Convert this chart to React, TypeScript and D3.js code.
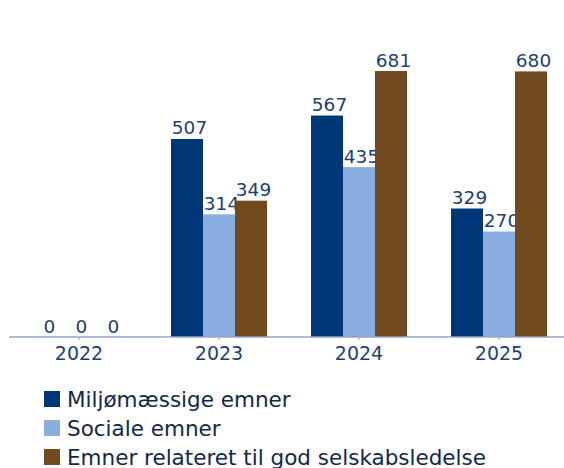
import React from "react";
import * as d3 from "d3";

const years = ["2022", "2023", "2024", "2025"];
const seriesNames = ["Miljømæssige emner", "Sociale emner", "Emner relateret til god selskabsledelse"];
const miljo = [0, 507, 567, 329];
const sociale = [0, 314, 435, 270];
const ledelse = [0, 349, 681, 680];
const colors = ["#003778", "#8aaddf", "#714a20"];

const W = 564;
const H = 468;

export default function App() {
  const series = [miljo, sociale, ledelse];
  const x = d3.scaleBand<string>().domain(years).range([9, 569]).paddingInner(44 / 140).paddingOuter(22 / 140);
  const xs = d3.scaleBand<number>().domain([0, 1, 2]).range([0, x.bandwidth()]);
  const y = d3.scaleLinear().domain([0, 700]).range([337, 63.6]);
  const font = "'DejaVu Sans', sans-serif";
  return (
    <svg width={W} height={H} style={{ position: "absolute", left: 0, top: 0 }}>
      <rect width={W} height={H} fill="#fff" />
      {years.map((yr, i) => (
        <g key={yr}>
          {series.map((s, j) => {
            const bx = (x(yr) as number) + (xs(j) as number);
            const v = s[i];
            return (
              <g key={j}>
                {v > 0 && (
                  <rect x={bx} y={y(v)} width={xs.bandwidth()} height={y(0) - y(v)} fill={colors[j]} />
                )}
                <text
                  x={bx + xs.bandwidth() / 2 + 2.5}
                  y={y(v) - 4.5}
                  textAnchor="middle"
                  fontFamily={font}
                  fontSize={18.5}
                  fill="#1d3f73"
                >
                  {v}
                </text>
              </g>
            );
          })}
        </g>
      ))}
      <line x1={9} x2={W} y1={337} y2={337} stroke="#93a6c2" strokeWidth={1.5} />
      {years.map((yr) => {
        const cx = (x(yr) as number) + x.bandwidth() / 2;
        return (
          <g key={"t" + yr}>
            <line x1={cx} x2={cx} y1={337} y2={340} stroke="#93a6c2" strokeWidth={1} />
            <text x={cx} y={360} textAnchor="middle" fontFamily={font} fontSize={19} fill="#1d3f73">
              {yr}
            </text>
          </g>
        );
      })}
      {seriesNames.map((n, j) => (
        <g key={n} transform={`translate(44, ${391 + j * 29})`}>
          <rect x={0} y={0} width={16} height={16} fill={colors[j]} />
          <text x={23} y={15.5} fontFamily={font} fontSize={21.5} fill="#12284a">
            {n}
          </text>
        </g>
      ))}
    </svg>
  );
}
